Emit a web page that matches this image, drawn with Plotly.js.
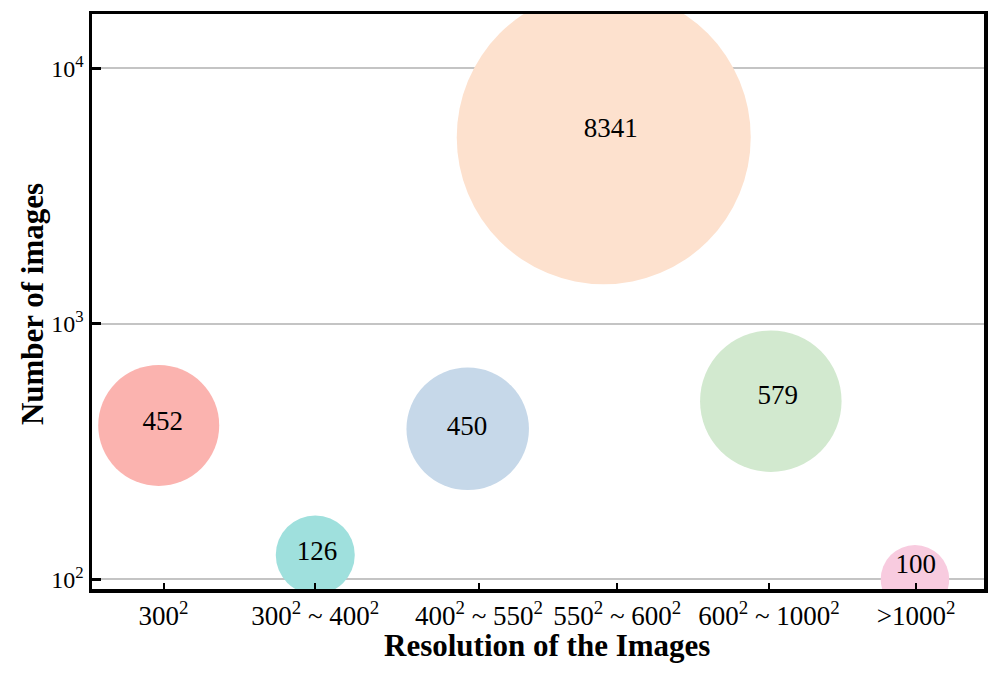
<!DOCTYPE html>
<html>
<head>
<meta charset="utf-8">
<script src="https://cdn.plot.ly/plotly-3.0.1.min.js"></script>
<style>html,body{margin:0;padding:0;background:#fff;}#chart{width:996px;height:674px;}</style>
</head>
<body>
<div id="chart"></div>
<script>
// ---- data ----
const categories = ["300<sup>2</sup>", "300<sup>2</sup> ~ 400<sup>2</sup>", "400<sup>2</sup> ~ 550<sup>2</sup>", "550<sup>2</sup> ~ 600<sup>2</sup>", "600<sup>2</sup> ~ 1000<sup>2</sup>", ">1000<sup>2</sup>"];
const counts = [452, 126, 450, 8341, 579, 100];
// category tick locations on a 0-100 x scale
const tickX = [8.02, 25.03, 43.39, 58.89, 75.90, 92.38];
// bubble centres (x on 0-100 scale, y in number of images)
const bubbleX = [7.48, 25.03, 42.12, 57.37, 76.10, 92.26];
const bubbleY = [400, 124.5, 388, 5370, 498, 100];
// label anchor points
const labelX = [7.93, 25.22, 42.04, 58.15, 76.87, 92.34];
const labelY = [408, 126.7, 391, 5734, 514, 112];

// ---- styles ----
const bubbleDiameter = [121, 79, 122.5, 294, 141.5, 68.5];
const colors = ["#FBB3AF", "#9FE0DD", "#C6D8E9", "#FDE1CE", "#D2E9CF", "#F8CBDF"];
const serif = "'Liberation Serif', 'Times New Roman', Times, serif";

const traces = [
  {
    type: "scatter", mode: "markers",
    x: bubbleX, y: bubbleY,
    marker: {size: bubbleDiameter, sizemode: "diameter", sizeref: 1, color: colors, opacity: 1, line: {width: 0}},
    hoverinfo: "skip", showlegend: false
  },
  {
    type: "scatter", mode: "text",
    x: labelX, y: labelY,
    text: counts.map(String), textposition: "middle center",
    textfont: {family: serif, size: 27, color: "#000"},
    hoverinfo: "skip", showlegend: false
  }
];

const layout = {
  width: 996, height: 674,
  margin: {l: 92, r: 12, t: 14, b: 85},
  paper_bgcolor: "#fff", plot_bgcolor: "#fff",
  font: {family: serif, color: "#000"},
  xaxis: {
    range: [0, 100], tickvals: tickX, ticktext: categories,
    ticks: "inside", ticklen: 6, tickwidth: 2, tickcolor: "#000",
    showgrid: false, zeroline: false,
    showline: true, linecolor: "#000", linewidth: 3.5, mirror: true,
    tickfont: {family: serif, size: 27, color: "#000"}
  },
  yaxis: {
    type: "log", range: [Math.log10(91.6), Math.log10(16315)],
    tickvals: [100, 1000, 10000], ticktext: ["10<sup>2</sup>", "10<sup>3</sup>", "10<sup>4</sup>"],
    ticks: "inside", ticklen: 9, tickwidth: 3, tickcolor: "#000",
    showgrid: true, gridcolor: "#c4c4c4", gridwidth: 2, zeroline: false,
    showline: true, linecolor: "#000", linewidth: 3.5, mirror: true,
    tickfont: {family: serif, size: 24, color: "#000"}
  },
  annotations: [
    {text: "<b>Resolution of the Images</b>", xref: "paper", yref: "paper", x: 0.510, y: -0.0974, xanchor: "center", yanchor: "middle", showarrow: false, font: {family: serif, size: 31, color: "#000"}},
    {text: "<b>Number of images</b>", xref: "paper", yref: "paper", x: -0.066, y: 0.4957, xanchor: "center", yanchor: "middle", textangle: -90, showarrow: false, font: {family: serif, size: 31, color: "#000"}}
  ]
};

Plotly.newPlot("chart", traces, layout, {displayModeBar: false, staticPlot: true});
</script>
</body>
</html>
